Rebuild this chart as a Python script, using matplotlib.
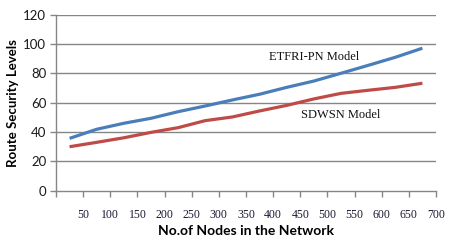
import matplotlib
matplotlib.use("Agg")
import matplotlib.pyplot as plt

nodes = [25, 75, 125, 175, 225, 275, 325, 375, 425, 475, 525, 575, 625, 675]
etfri = [35.6, 41.8, 45.9, 49.3, 53.8, 57.7, 61.8, 65.7, 70.4, 74.7, 80.0, 85.4, 90.9, 97.1]
sdwsn = [29.9, 32.9, 36.0, 39.7, 42.9, 47.7, 50.2, 54.3, 58.1, 62.5, 66.3, 68.4, 70.4, 73.2]
xticks = list(range(0, 701, 50))
xlabels = [""] + [str(v) for v in range(50, 701, 50)]
yticks = list(range(0, 121, 20))

fig = plt.figure(figsize=(4.57, 2.4), dpi=100)
ax = fig.add_axes([0.1225, 0.206, 0.8315, 0.733])

grid_c = "#868686"
for y in yticks[1:]:
    ax.axhline(y, color=grid_c, lw=1.0, zorder=1)

ax.plot(nodes, etfri, color="#4a7ebb", lw=2.3, zorder=3, solid_capstyle="butt")
ax.plot(nodes, sdwsn, color="#be4b48", lw=2.3, zorder=3, solid_capstyle="butt")

ax.set_xlim(0, 700)
ax.set_ylim(0, 120)
ax.set_xticks(xticks)
ax.set_xticklabels(xlabels, family="Liberation Serif", fontsize=8.5, color="#1a1a33")
ax.set_yticks(yticks)
ax.set_yticklabels([str(v) for v in yticks], family="Lato", fontsize=9.5, color="#1a1a1a")

for s in ["top", "right"]:
    ax.spines[s].set_visible(False)
for s in ["left", "bottom"]:
    ax.spines[s].set_color(grid_c)
    ax.spines[s].set_linewidth(1.0)
ax.tick_params(axis="both", colors=grid_c, length=4, width=1.0, labelcolor="#1a1a1a")
ax.tick_params(axis="x", pad=9, labelcolor="#1a1a33")
ax.tick_params(axis="y", pad=3)

ax.set_ylabel("Route Security Levels", family="Lato", fontweight="bold", fontsize=9.5, labelpad=3)
ax.set_xlabel("No.of Nodes in the Network", family="Lato", fontweight="bold", fontsize=10, labelpad=3)

ax.text(475, 91, "ETFRI-PN Model", family="Liberation Serif", fontsize=9, ha="center", va="center", color="#111111")
ax.text(525, 51.5, "SDWSN Model", family="Liberation Serif", fontsize=9, ha="center", va="center", color="#111111")

fig.savefig("out.png", dpi=100)
